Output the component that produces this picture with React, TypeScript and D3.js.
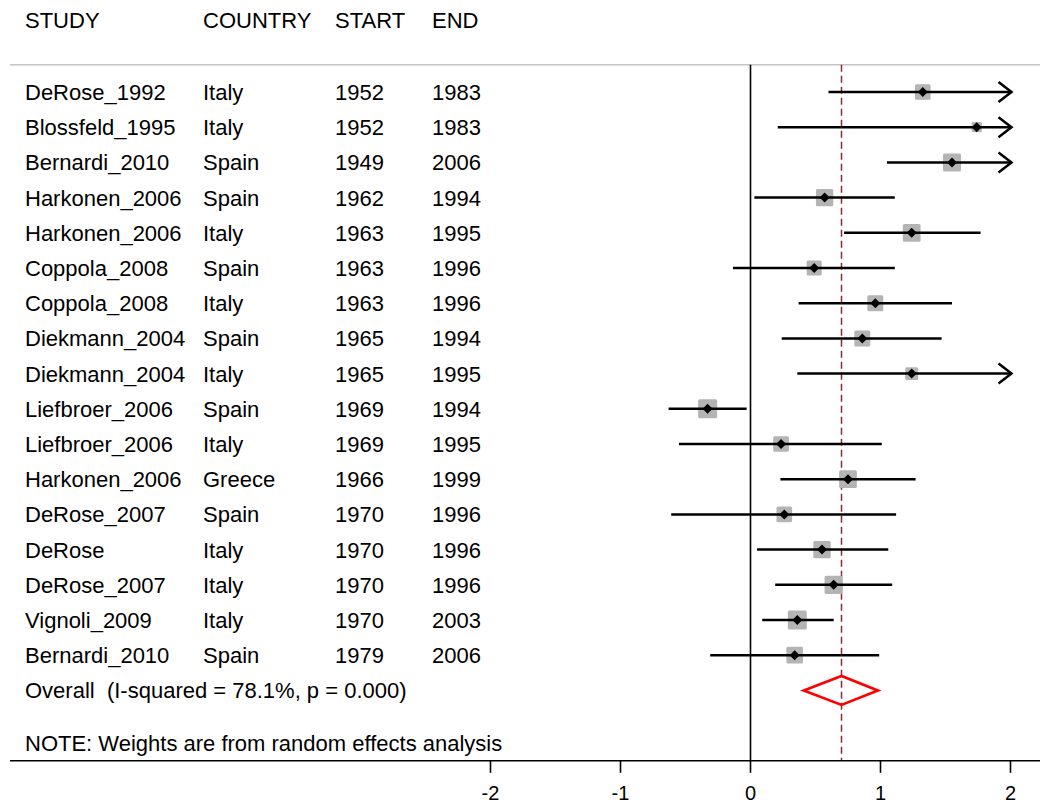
import React from "react";
import * as d3 from "d3";

const studies = ["DeRose_1992","Blossfeld_1995","Bernardi_2010","Harkonen_2006","Harkonen_2006","Coppola_2008","Coppola_2008","Diekmann_2004","Diekmann_2004","Liefbroer_2006","Liefbroer_2006","Harkonen_2006","DeRose_2007","DeRose","DeRose_2007","Vignoli_2009","Bernardi_2010"];
const countries = ["Italy","Italy","Spain","Spain","Italy","Spain","Italy","Spain","Italy","Spain","Italy","Greece","Spain","Italy","Italy","Italy","Spain"];
const starts = ["1952","1952","1949","1962","1963","1963","1963","1965","1965","1969","1969","1966","1970","1970","1970","1970","1979"];
const ends = ["1983","1983","2006","1994","1995","1996","1996","1994","1995","1994","1995","1999","1996","1996","1996","2003","2006"];
const estimates = [1.325,1.74,1.55,0.57,1.24,0.49,0.96,0.86,1.24,-0.33,0.235,0.75,0.26,0.55,0.64,0.36,0.34];
const lower = [0.60,0.21,1.05,0.03,0.72,-0.135,0.37,0.24,0.36,-0.63,-0.55,0.23,-0.61,0.05,0.19,0.09,-0.31];
const upper = [2.05,3.27,2.05,1.11,1.77,1.11,1.55,1.47,2.12,-0.03,1.01,1.27,1.12,1.06,1.09,0.64,0.99];
const weights = [5.3,2.3,7.0,6.5,6.8,4.9,5.5,5.5,3.6,7.8,5.3,6.8,5.3,6.5,7.2,7.8,6.0];

const overall = { est: 0.70, lo: 0.41, hi: 0.98 };
const overallLabel = "Overall  (I-squared = 78.1%, p = 0.000)";
const noteLabel = "NOTE: Weights are from random effects analysis";
const headers = ["STUDY", "COUNTRY", "START", "END"];
const tickValues = [-2, -1, 0, 1, 2];

export default function App() {
  const W = 1040, H = 803;
  const x = d3.scaleLinear().domain([-2, 2]).range([490.5, 1010.5]);
  const y = d3.scaleLinear().domain([0, 17]).range([92, 690.4]);
  const box = d3.scaleSqrt().domain([0, 7.8]).range([0, 19]);
  const font = "'Liberation Sans', Arial, sans-serif";
  const fs = 22;
  const colX = [25, 203, 335, 432];
  const tb = 8;
  const xMax = 2;
  const topY = y(-0.775);
  const axisY = y(19);

  return (
    <svg width={W} height={H} style={{ position: "absolute", left: 0, top: 0, background: "#fff" }} fontFamily={font}>
      <rect x={0} y={0} width={W} height={H} fill="#fff" />
      {headers.map((h, j) => (
        <text key={h} x={colX[j]} y={y(-2) + 6} fontSize={fs} fill="#000">{h}</text>
      ))}
      <line x1={10} x2={W} y1={topY} y2={topY} stroke="#c4c4c4" strokeWidth={1.6} />
      <line x1={x(0)} x2={x(0)} y1={topY} y2={axisY} stroke="#000" strokeWidth={1.6} />
      <line x1={x(overall.est)} x2={x(overall.est)} y1={topY} y2={axisY} stroke="#8e2a36" strokeWidth={1.5} strokeDasharray="7,4" />
      {studies.map((s, i) => {
        const cy = y(i);
        const lo = Math.max(lower[i], -2);
        const hiClip = upper[i] > xMax;
        const hi = Math.min(upper[i], xMax);
        const side = box(weights[i]);
        const ex = x(estimates[i]);
        const tip = x(hi) + 1;
        return (
          <g key={i}>
            <text x={colX[0]} y={cy + tb} fontSize={fs}>{s}</text>
            <text x={colX[1]} y={cy + tb} fontSize={fs}>{countries[i]}</text>
            <text x={colX[2]} y={cy + tb} fontSize={fs}>{starts[i]}</text>
            <text x={colX[3]} y={cy + tb} fontSize={fs}>{ends[i]}</text>
            <rect x={ex - side / 2} y={cy - side / 2} width={side} height={side} rx={1.5} fill="#b4b4b4" />
            <line x1={x(lo)} x2={hiClip ? tip : x(hi)} y1={cy} y2={cy} stroke="#000" strokeWidth={2.5} />
            {hiClip && (
              <polyline points={`${tip - 13},${cy - 10} ${tip},${cy} ${tip - 13},${cy + 10}`} fill="none" stroke="#000" strokeWidth={2.5} />
            )}
            <path d={`M${ex - 5},${cy} L${ex},${cy - 5} L${ex + 5},${cy} L${ex},${cy + 5} Z`} fill="#000" />
          </g>
        );
      })}
      <text x={colX[0]} y={y(17) + tb} fontSize={fs} style={{ whiteSpace: "pre" }} xmlSpace="preserve">{overallLabel}</text>
      <path
        d={`M${x(overall.lo)},${y(17)} L${x(overall.est)},${y(17) - 14.5} L${x(overall.hi)},${y(17)} L${x(overall.est)},${y(17) + 14.5} Z`}
        fill="none" stroke="#ff0000" strokeWidth={2.7} />
      <text x={colX[0]} y={y(18.5) + tb} fontSize={fs}>{noteLabel}</text>
      <line x1={10} x2={W} y1={axisY} y2={axisY} stroke="#000" strokeWidth={1.6} />
      {tickValues.map((t) => (
        <g key={t}>
          <line x1={x(t)} x2={x(t)} y1={axisY} y2={axisY + 12} stroke="#000" strokeWidth={1.6} />
          <text x={x(t)} y={800} fontSize={20} textAnchor="middle">{t}</text>
        </g>
      ))}
    </svg>
  );
}
